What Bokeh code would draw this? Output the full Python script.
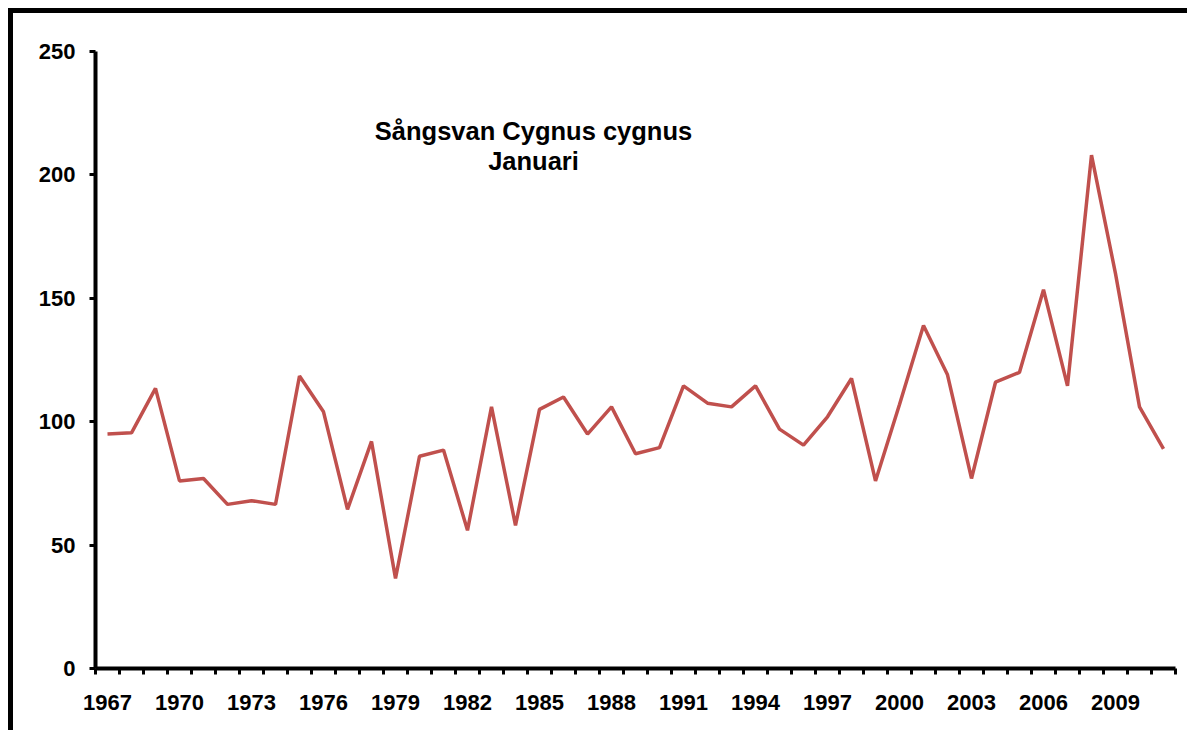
from bokeh.plotting import figure
from bokeh.models import FixedTicker, Range1d, Label
from bokeh.embed import file_html
from bokeh.resources import INLINE

years = list(range(1967, 2012))
counts = [95, 95.5, 113.5, 76, 77, 66.5, 68, 66.5, 118.5, 104,
          64.5, 92, 36.5, 86, 88.5, 56, 106, 58, 105, 110,
          95, 106, 87, 89.5, 114.5, 107.5, 106, 114.5, 97, 90.5,
          102, 117.5, 76, 107, 139, 119, 77, 116, 120, 153.5,
          114.5, 208, 160, 106, 89]
x_labels = list(range(1967, 2012, 3))
y_ticks = [0, 50, 100, 150, 200, 250]
title_lines = ["Sångsvan Cygnus cygnus", "Januari"]

FONT = "Liberation Sans"

p = figure(width=1179, height=722, output_backend="svg", toolbar_location=None,
           x_range=Range1d(years[0] - 0.5, years[-1] + 0.5), y_range=Range1d(0, 250),
           min_border_left=82, min_border_top=38, min_border_bottom=67, min_border_right=17)
p.styles = {"margin-left": "8px", "margin-top": "8px",
            "border-left": "5px solid black", "border-top": "5px solid black"}
p.outline_line_color = None
p.grid.visible = False
p.background_fill_color = "white"
p.border_fill_color = "white"

p.line(years, counts, line_color="#C0504D", line_width=3.5)

# x axis
xa = p.xaxis[0]
xa.ticker = FixedTicker(ticks=x_labels, minor_ticks=[y - 0.5 for y in years] + [years[-1] + 0.5])
xa.axis_line_width = 4
xa.axis_line_color = "black"
xa.major_tick_line_alpha = 0
xa.major_tick_out = 0
xa.major_tick_in = 0
xa.minor_tick_line_color = "black"
xa.minor_tick_line_width = 3
xa.minor_tick_out = 6
xa.minor_tick_in = 0
xa.major_label_text_font = FONT
xa.major_label_text_font_style = "bold"
xa.major_label_text_font_size = "22px"
xa.major_label_text_color = "black"
xa.major_label_standoff = 20

# y axis
ya = p.yaxis[0]
ya.ticker = FixedTicker(ticks=y_ticks, minor_ticks=[])
ya.axis_line_width = 4
ya.axis_line_color = "black"
ya.major_tick_line_width = 3
ya.major_tick_line_color = "black"
ya.major_tick_out = 6
ya.major_tick_in = 0
ya.minor_tick_line_alpha = 0
ya.major_label_text_font = FONT
ya.major_label_text_font_style = "bold"
ya.major_label_text_font_size = "22px"
ya.major_label_text_color = "black"
ya.major_label_standoff = 14

# title inside the plot
for txt, yv in zip(title_lines, [217.6, 205.8]):
    p.add_layout(Label(x=1984.75, y=yv, text=txt, text_align="center", text_baseline="middle",
                       text_font=FONT, text_font_style="bold", text_font_size="25.5px",
                       text_color="black"))

open("out.html", "w").write(file_html(p, INLINE))
